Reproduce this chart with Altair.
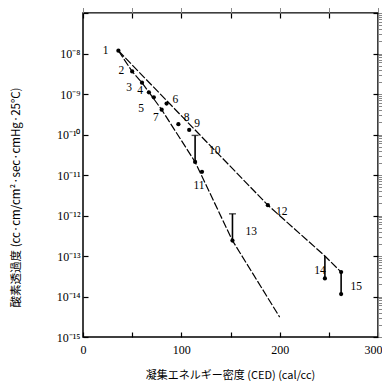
import altair as alt
import pandas as pd

# ---- data ----
pt_ids = ["1", "2", "3", "4", "5", "6", "7", "8", "9", "10", "11", "12", "13", "14", "15"]
pt_ced = [36, 50, 60, 67, 72, 85, 80, 97, 108, 114, 121, 188, 152, 246, 262.5]
pt_perm = [1.17e-8, 3.6e-9, 1.9e-9, 1.1e-9, 8.3e-10, 5.8e-10, 4.1e-10, 1.8e-10,
           1.3e-10, 2.1e-11, 1.2e-11, 1.8e-12, 2.4e-13, 2.8e-14, 1.15e-14]

# vertical ranges (bars)
bar_ced = [114, 152, 246, 262.5]
bar_low = [2.1e-11, 2.4e-13, 2.8e-14, 1.15e-14]
bar_high = [9.5e-11, 1.1e-12, 1.0e-13, 4.0e-14]

# caps at the top of ranges 10 and 13
cap_ced = [114, 152]
cap_perm = [9.5e-11, 1.1e-12]

# extra dot at the top of range 15
top_ced = [262.5]
top_perm = [4.0e-14]

# the two trend lines
upper_ced = [36, 188, 246, 262.5]
upper_perm = [1.17e-8, 1.8e-12, 1.0e-13, 4.0e-14]
lower_ced = [36, 50, 60, 80, 114, 152, 200]
lower_perm = [1.17e-8, 3.6e-9, 1.9e-9, 4.1e-10, 2.1e-11, 2.4e-13, 3.1e-15]

# number labels
lab_ced = [23, 39, 47, 58, 59, 94, 74, 105.5, 116, 134, 118, 202, 171, 241, 278]
lab_perm = [1.17e-8, 3.8e-9, 1.4e-9, 1.2e-9, 4.3e-10, 7.2e-10, 2.5e-10, 2.6e-10,
            1.8e-10, 4.0e-11, 5.5e-12, 1.2e-12, 3.9e-13, 4.2e-14, 1.7e-14]

x_ticks = [0, 50, 100, 150, 200, 250, 300]
y_ticks = [1e-15, 1e-14, 1e-13, 1e-12, 1e-11, 1e-10, 1e-9, 1e-8, 1e-7]
y_tick_labels = ["10⁻¹⁵", "10⁻¹⁴", "10⁻¹³", "10⁻¹²", "10⁻¹¹", "10⁻¹⁰", "10⁻⁹", "10⁻⁸", ""]

x_title = "凝集エネルギー密度 (CED) (cal/cc)"
y_title = "酸素透過度 (cc·cm/cm²·sec·cmHg·25°C)"

# ---- tables ----
pts = pd.DataFrame({"id": pt_ids, "ced": pt_ced, "perm": pt_perm})
bars = pd.DataFrame({"ced": bar_ced, "lo": bar_low, "hi": bar_high})
caps = pd.DataFrame({"ced": cap_ced, "perm": cap_perm})
tops = pd.DataFrame({"ced": top_ced, "perm": top_perm})
lines = pd.concat([
    pd.DataFrame({"line": "upper", "ced": upper_ced, "perm": upper_perm, "o": range(len(upper_ced))}),
    pd.DataFrame({"line": "lower", "ced": lower_ced, "perm": lower_perm, "o": range(len(lower_ced))}),
])
labs = pd.DataFrame({"id": pt_ids, "ced": lab_ced, "perm": lab_perm})

serif = "Liberation Serif"
cjk = "Noto Sans CJK JP"

xscale = alt.Scale(domain=[0, 300], nice=False, zero=False)
yscale = alt.Scale(type="log", domain=[1e-15, 1e-7], nice=False)

label_expr = "[" + ",".join("'" + s + "'" for s in y_tick_labels) + "][round(log(datum.value)/LN10)+15]"

x_axis = alt.Axis(values=x_ticks, labelExpr="datum.value % 100 == 0 ? datum.label : ''",
                  format="d", domain=False, grid=False, offset=-5, tickSize=5,
                  tickColor="black", tickWidth=1.2, labelFont=serif, labelFontSize=12,
                  labelColor="black", labelPadding=7, labelFlush=False, labelOverlap=False,
                  labelAlign={"condition": {"test": "datum.value == 300", "value": "right"}, "value": "center"},
                  labelOffset={"condition": {"test": "datum.value == 300", "value": 4}, "value": 0},
                  title=x_title, titleFont=cjk, titleFontSize=11, titleFontWeight="normal",
                  titleColor="black", titleX=147, titleY=43, titleAlign="center",
                  titleBaseline="middle")
y_axis = alt.Axis(values=y_ticks, labelExpr=label_expr, domain=False, grid=False,
                  offset=-5, tickSize=5, tickColor="black", tickWidth=1.2,
                  labelFont=serif, labelFontSize=12, labelColor="black", labelPadding=3,
                  labelFlush=False, labelOverlap=False,
                  title=y_title, titleFont=cjk, titleFontSize=11.5, titleFontWeight="normal",
                  titleColor="black", titleX=-72, titleY=184, titleAlign="center",
                  titleBaseline="middle", titleAngle=270)

X = alt.X("ced:Q", scale=xscale, axis=x_axis)
Y = alt.Y("perm:Q", scale=yscale, axis=y_axis)

line_layer = alt.Chart(lines).mark_line(color="black", strokeWidth=1.2, strokeDash=[8, 2]).encode(
    x=X, y=Y, detail="line:N", order="o:Q")

bar_layer = alt.Chart(bars).mark_rule(color="black", strokeWidth=1.6).encode(
    x=alt.X("ced:Q", scale=xscale), y=alt.Y("lo:Q", scale=yscale), y2="hi:Q")

cap_layer = alt.Chart(caps).mark_tick(color="black", thickness=1.4, size=7, orient="horizontal").encode(
    x=alt.X("ced:Q", scale=xscale), y=alt.Y("perm:Q", scale=yscale))

pt_layer = alt.Chart(pts).mark_circle(color="black", size=18, opacity=1).encode(
    x=alt.X("ced:Q", scale=xscale), y=alt.Y("perm:Q", scale=yscale))

top_layer = alt.Chart(tops).mark_circle(color="black", size=18, opacity=1).encode(
    x=alt.X("ced:Q", scale=xscale), y=alt.Y("perm:Q", scale=yscale))

lab_layer = alt.Chart(labs).mark_text(font=serif, fontSize=11.5, color="black",
                                      align="center", baseline="middle").encode(
    x=alt.X("ced:Q", scale=xscale), y=alt.Y("perm:Q", scale=yscale), text="id:N")

# invisible layer carrying the top and right tick axes
mirror = alt.Chart(pts).mark_circle(opacity=0).encode(
    x=alt.X("ced:Q", scale=xscale,
            axis=alt.Axis(orient="top", values=x_ticks, labels=False, domain=False, grid=False,
                          offset=-5, tickSize=5, tickColor="black", tickWidth=1.2, title=None)),
    y=alt.Y("perm:Q", scale=yscale,
            axis=alt.Axis(orient="right", values=y_ticks, labels=False, domain=False, grid=False,
                          offset=-5, tickSize=5, tickColor="black", tickWidth=1.2, title=None)),
)

chart = alt.layer(line_layer, bar_layer, cap_layer, pt_layer, top_layer, lab_layer, mirror).resolve_axis(
    x="independent", y="independent"
).properties(
    width=295, height=324,
    autosize=alt.AutoSizeParams(type="none"),
    padding={"left": 75, "top": 5, "right": 4, "bottom": 44},
    background="white",
).configure_view(stroke="black", strokeWidth=1.5)

chart.save("out.html", embed_options={"renderer": "svg", "actions": False})
